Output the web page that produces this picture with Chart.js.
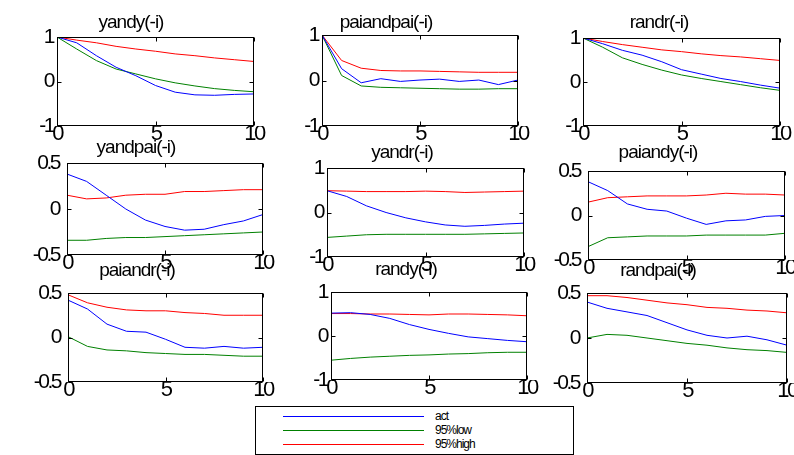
<!DOCTYPE html>
<html>
<head>
<meta charset="utf-8">
<script src="https://cdn.jsdelivr.net/npm/chart.js@4/dist/chart.umd.min.js"></script>
<style>
	body { margin: 0; background: #fff; width: 794px; height: 455px; position: relative; overflow: hidden; font-family: 'Liberation Sans', Arial, sans-serif; }
	canvas { position: absolute; }
	#legend { position: absolute; left: 255px; top: 406px; width: 317px; height: 47px; border: 1px solid #000; background: #fff; }
	#legend .line { position: absolute; left: 27px; width: 141px; height: 1px; }
	#legend .label { position: absolute; left: 179px; font-size: 12px; letter-spacing: -1px; line-height: 14px; color: #000; }
</style>
</head>
<body>
<div id="legend"></div>
<script>
'use strict';

const horizon = [0, 1, 2, 3, 4, 5, 6, 7, 8, 9, 10];
const panelTitles = ['yandy(-i)', 'paiandpai(-i)', 'randr(-i)', 'yandpai(-i)', 'yandr(-i)', 'paiandy(-i)', 'paiandr(-i)', 'randy(-i)', 'randpai(-i)'];
const yLimits = [1, 1, 1, 0.5, 1, 0.5, 0.5, 1, 0.5];
const legendLabels = ['act', '95%low', '95%high'];

const actSeries = [
	[1, 0.87, 0.58, 0.32, 0.13, -0.09, -0.24, -0.30, -0.31, -0.29, -0.28],
	[1, 0.26, -0.05, 0.04, -0.02, 0.01, 0.03, -0.02, 0.01, -0.09, 0.01],
	[1, 0.87, 0.72, 0.61, 0.46, 0.28, 0.18, 0.08, 0.01, -0.07, -0.14],
	[0.38, 0.30, 0.15, 0.0, -0.12, -0.19, -0.23, -0.22, -0.17, -0.13, -0.06],
	[0.49, 0.36, 0.15, 0.0, -0.12, -0.21, -0.28, -0.31, -0.29, -0.26, -0.24],
	[0.38, 0.28, 0.13, 0.07, 0.05, -0.03, -0.10, -0.06, -0.05, -0.01, 0.0],
	[0.42, 0.32, 0.15, 0.07, 0.06, -0.02, -0.11, -0.12, -0.10, -0.12, -0.11],
	[0.52, 0.53, 0.49, 0.40, 0.26, 0.15, 0.06, -0.02, -0.06, -0.10, -0.13],
	[0.40, 0.33, 0.29, 0.25, 0.17, 0.09, 0.03, 0.0, 0.02, -0.02, -0.08]
];
const lowSeries = [
	[1, 0.73, 0.47, 0.28, 0.17, 0.06, -0.03, -0.10, -0.16, -0.20, -0.23],
	[1, 0.11, -0.12, -0.15, -0.16, -0.17, -0.18, -0.19, -0.19, -0.18, -0.18],
	[1, 0.79, 0.55, 0.40, 0.27, 0.16, 0.08, 0.01, -0.06, -0.13, -0.19],
	[-0.34, -0.34, -0.32, -0.31, -0.31, -0.30, -0.29, -0.28, -0.27, -0.26, -0.25],
	[-0.56, -0.53, -0.50, -0.49, -0.49, -0.49, -0.49, -0.49, -0.48, -0.47, -0.46],
	[-0.35, -0.25, -0.24, -0.23, -0.23, -0.23, -0.22, -0.22, -0.22, -0.22, -0.20],
	[0.01, -0.10, -0.14, -0.15, -0.17, -0.18, -0.19, -0.19, -0.20, -0.21, -0.21],
	[-0.55, -0.51, -0.48, -0.46, -0.44, -0.43, -0.41, -0.40, -0.38, -0.37, -0.37],
	[0.0, 0.04, 0.03, 0.0, -0.03, -0.06, -0.08, -0.11, -0.13, -0.14, -0.16]
];
const highSeries = [
	[1, 0.93, 0.87, 0.79, 0.73, 0.68, 0.62, 0.58, 0.53, 0.49, 0.45],
	[1, 0.44, 0.27, 0.22, 0.21, 0.21, 0.20, 0.19, 0.18, 0.18, 0.18],
	[1, 0.92, 0.85, 0.79, 0.73, 0.69, 0.64, 0.60, 0.57, 0.53, 0.49],
	[0.15, 0.11, 0.12, 0.15, 0.16, 0.16, 0.19, 0.19, 0.20, 0.21, 0.21],
	[0.49, 0.48, 0.47, 0.47, 0.47, 0.48, 0.47, 0.45, 0.46, 0.47, 0.48],
	[0.15, 0.20, 0.21, 0.22, 0.22, 0.22, 0.23, 0.25, 0.24, 0.24, 0.23],
	[0.48, 0.39, 0.34, 0.31, 0.30, 0.30, 0.28, 0.27, 0.25, 0.25, 0.25],
	[0.51, 0.51, 0.50, 0.50, 0.49, 0.48, 0.50, 0.50, 0.49, 0.48, 0.46],
	[0.47, 0.47, 0.45, 0.42, 0.39, 0.37, 0.34, 0.33, 0.31, 0.30, 0.28]
];

const seriesColors = ['#0000ff', '#008000', '#ff0000'];

// plot area [left, right, top, bottom], title centre x, title text top
const panelBoxes = [
	[57, 254, 37, 126, 131, 15],
	[322, 518, 35, 126, 386, 15],
	[583, 780, 38, 126, 659, 15],
	[67, 263, 163, 255, 136, 140],
	[327, 524, 168, 257, 402, 145],
	[588, 785, 171, 260, 658, 145],
	[68, 263, 293, 382, 137, 263],
	[331, 527, 292, 380, 406, 262],
	[587, 787, 293, 383, 658, 263]
];

const fontFamily = "'Liberation Sans', Arial, sans-serif";

const framePlugin = {
	id: 'frame',
	afterLayout(chart) {
		// titles are a bit less squeezed than the tick numbers
		const tb = chart.titleBlock;
		if (tb && !tb._wrapped) {
			const orig = tb.draw;
			tb.draw = function (area) {
				chart.ctx.letterSpacing = '-1px';
				orig.call(tb, area);
				chart.ctx.letterSpacing = '-2.5px';
			};
			tb._wrapped = true;
		}
	},
	beforeDraw(chart) {
		chart.ctx.letterSpacing = '-2.5px';
	},
	afterDraw(chart) {
		const ctx = chart.ctx;
		const a = chart.chartArea;
		const xs = chart.scales.x;
		const ys = chart.scales.y;
		const L = Math.round(a.left) + 0.5, R = Math.round(a.right) - 0.5;
		const T = Math.round(a.top) + 0.5, B = Math.round(a.bottom) - 0.5;
		ctx.save();
		ctx.strokeStyle = '#000';
		ctx.lineWidth = 1;
		ctx.strokeRect(L, T, R - L, B - T);
		ctx.beginPath();
		xs.ticks.forEach(function (tk) {
			const px = Math.round(xs.getPixelForValue(tk.value)) + 0.5;
			ctx.moveTo(px, B); ctx.lineTo(px, B - 4);
			ctx.moveTo(px, T); ctx.lineTo(px, T + 4);
		});
		ys.ticks.forEach(function (tk) {
			const py = Math.round(ys.getPixelForValue(tk.value)) + 0.5;
			ctx.moveTo(L, py); ctx.lineTo(L + 4, py);
			ctx.moveTo(R, py); ctx.lineTo(R - 4, py);
		});
		ctx.stroke();
		ctx.restore();
	}
};

function makePanel(i) {
	const [l, r, t, b, tc, tt] = panelBoxes[i];
	const rightPad = 14;
	const xAxisH = 30;
	const cRight = r + rightPad;
	const cLeft = 2 * tc - cRight;
	const cTop = tt - 4;
	const w = cRight - cLeft;
	const h = Math.round(b + xAxisH - cTop);
	const yAxisW = l - cLeft;
	const titleLine = 19 * 1.2;

	const canvas = document.createElement('canvas');
	canvas.width = w;
	canvas.height = h;
	canvas.style.left = cLeft + 'px';
	canvas.style.top = cTop + 'px';
	canvas.style.width = w + 'px';
	canvas.style.height = h + 'px';
	document.body.insertBefore(canvas, document.getElementById('legend'));

	const lim = yLimits[i];
	const rows = [actSeries[i], lowSeries[i], highSeries[i]];

	const chart = new Chart(canvas, {
		type: 'line',
		data: {
			labels: horizon,
			datasets: rows.map(function (row, k) {
				return {
					label: legendLabels[k],
					data: row,
					borderColor: seriesColors[k],
					backgroundColor: seriesColors[k],
					borderWidth: 1,
					pointRadius: 0,
					tension: 0,
					fill: false
				};
			})
		},
		options: {
			responsive: false,
			animation: false,
			events: [],
			layout: { padding: 0 },
			plugins: {
				legend: { display: false },
				tooltip: { enabled: false },
				title: {
					display: true,
					text: panelTitles[i],
					color: '#000',
					font: { family: fontFamily, size: 19, weight: 'normal', lineHeight: 1.2 },
					padding: { top: 0, bottom: Math.max(0, t - cTop - titleLine) }
				}
			},
			scales: {
				x: {
					type: 'linear',
					min: 0,
					max: 10,
					grid: { display: false, drawTicks: false },
					border: { display: false },
					ticks: { stepSize: 5, color: '#000', padding: -5, maxRotation: 0, font: { family: fontFamily, size: 22 } },
					afterFit: function (s) {
						s.height = xAxisH;
						s.paddingLeft = 0;
						s.paddingRight = rightPad;
					}
				},
				y: {
					min: -lim,
					max: lim,
					grid: { display: false, drawTicks: false },
					border: { display: false },
					ticks: { stepSize: lim, color: '#000', padding: lim === 1 ? 4 : 8, font: { family: fontFamily, size: 21 } },
					afterFit: function (s) {
						s.width = yAxisW;
						s.paddingTop = 0;
						s.paddingBottom = 0;
					}
				}
			}
		},
		plugins: [framePlugin]
	});
	chart.draw();
}

for (let i = 0; i < panelTitles.length; i++) {
	makePanel(i);
}

const legendBox = document.getElementById('legend');
legendLabels.forEach(function (name, k) {
	const y = 9 + k * 14;
	const line = document.createElement('div');
	line.className = 'line';
	line.style.top = y + 'px';
	line.style.background = seriesColors[k];
	legendBox.appendChild(line);
	const label = document.createElement('div');
	label.className = 'label';
	label.style.top = (y - 7) + 'px';
	label.textContent = name;
	legendBox.appendChild(label);
});
</script>
</body>
</html>
